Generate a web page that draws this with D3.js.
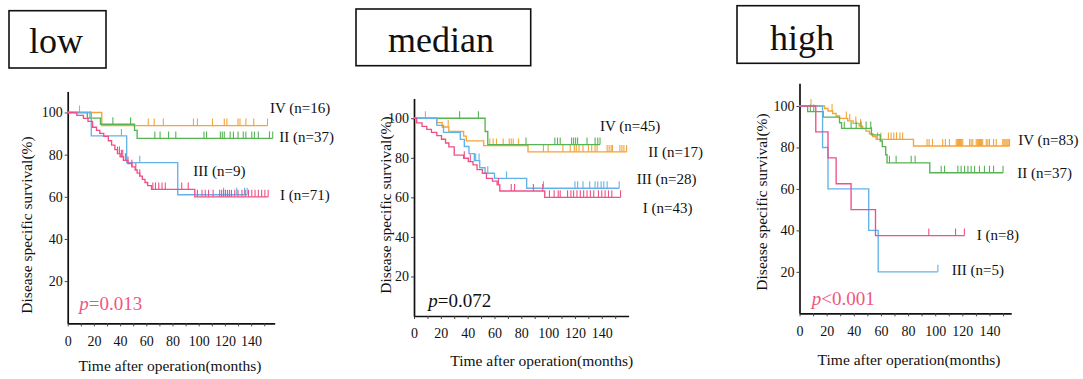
<!DOCTYPE html>
<html><head><meta charset="utf-8">
<script src="https://cdn.jsdelivr.net/npm/d3@7"></script>
<style>
body{margin:0;background:#fff;}
svg{display:block;}
text{font-family:"Liberation Serif","Times New Roman",serif;fill:#111;}
</style>
</head><body>
<svg id="c" width="1083" height="379"></svg>
<script>
// ---------- DATA (event times, survival after event, censor times) ----------
// Low
const lowIV_t = [26];
const lowIV_s = [93.8];
const lowIV_c = [9, 61.5, 66, 73, 96, 99, 110.5, 119.5, 121.5, 130, 131.5, 136, 142, 152.5];
const lowII_t = [15, 25, 51, 53];
const lowII_s = [97.3, 94.4, 91.5, 87.7];
const lowII_c = [17, 34.5, 48, 66.5, 70.5, 77, 82.5, 104, 106, 116.5, 118, 119.5, 124, 126.5, 130, 134, 136, 140.5, 142.5, 145.5, 154, 156.5];
const lowIII_t = [18, 45, 84];
const lowIII_s = [88.9, 76.2, 61.0];
const lowIII_c = [41, 55, 119, 129, 135, 137];
const lowI_t = [7, 12, 15.5, 19, 22, 24.5, 27.5, 31, 33.5, 36, 38, 40, 42.5, 46, 49, 51.5, 53, 55, 57, 59, 61, 64, 97];
const lowI_s = [98.6, 97.2, 95.8, 93.0, 91.5, 90.1, 88.7, 86.6, 84.5, 82.4, 80.5, 79.0, 77.3, 75.8, 74.2, 72.7, 71.2, 69.8, 68.3, 66.8, 65.3, 63.5, 60.0];
const lowI_c = [38, 39.5, 41, 42, 44, 46, 49, 52, 55, 65, 67, 69.5, 72, 74.5, 87, 92, 99, 102.5, 105, 107.5, 111, 116, 117.5, 119, 120.5, 122, 123.5, 125, 127.5, 130, 133, 135.5, 138, 140.5, 143, 145.5, 148, 150.5, 153];
// Median
const medIV_t = [17, 21, 26, 37, 39, 52, 85];
const medIV_s = [97.8, 95.6, 93.3, 91.0, 88.6, 86.2, 83.0];
const medIV_c = [8.5, 25.5, 56.5, 59, 61.5, 66.5, 71, 72.5, 74, 78, 96.5, 100, 111, 116.5, 119.5, 121, 123, 126, 130, 132.5, 135, 136.5, 144, 145.5, 147, 148, 153.5, 155, 156.5, 158.5];
const medII_t = [53, 55];
const medII_s = [93.3, 86.7];
const medII_c = [34, 48, 83.5, 105, 107, 109, 117.5, 119, 120.5, 122, 129, 135, 137, 138.7];
const medIII_t = [17, 22, 34.5, 37.5, 41, 45, 49, 53, 60, 84];
const medIII_s = [96.4, 92.9, 89.3, 85.7, 82.1, 78.6, 75.0, 72.2, 69.6, 64.6];
const medIII_c = [46, 48.5, 55, 69, 96.5, 120, 122, 126, 131, 135, 137, 139.5, 141.5, 144, 153];
const medI_t = [2, 6, 9.5, 13, 17, 20.5, 23.5, 26, 30, 37, 40.5, 44, 47, 51, 54, 58.5, 62, 64, 97.5];
const medI_s = [97.7, 95.9, 94.4, 92.9, 91.2, 89.4, 87.5, 85.5, 81.4, 79.8, 78.1, 76.4, 74.0, 72.2, 69.6, 68.2, 66.3, 63.2, 60.0];
const medI_c = [37.5, 42, 63, 72.5, 75, 89, 96, 101, 104.5, 107.5, 109, 114.5, 117, 119, 121.5, 124, 126.5, 129, 131.5, 134, 137.5, 140, 142.5, 145, 147.5, 154];
// High
const highIV_t = [18.5, 21, 24.5, 27, 29.5, 35.5, 39.5, 44, 46.5, 49, 51.5, 54, 56.5, 84];
const highIV_s = [98.8, 97.6, 96.4, 95.2, 94.0, 92.8, 91.6, 90.3, 89.1, 87.9, 86.6, 85.3, 83.9, 80.7];
const highIV_c = [8.5, 24, 34.5, 37, 41.5, 45, 53, 57.5, 60, 65.5, 67.5, 69.5, 71.5, 74, 76, 94, 95.5, 98, 105.5, 107.5, 110.5, 115.5, 116.3, 117.1, 117.9, 118.7, 119.5, 120.3, 125.3, 126.5, 127.7, 130.2, 131, 131.8, 132.6, 133.4, 134.2, 135, 137.6, 138.8, 140, 143, 145, 149.8, 150.6, 151.4, 152.2, 153, 153.8, 154.8];
const highII_t = [6, 17.5, 29.5, 31, 53, 59.5, 61, 63.5, 64.5, 96];
const highII_s = [97.3, 94.6, 91.9, 89.2, 86.1, 83.1, 80.4, 76.5, 72.6, 67.8];
const highII_c = [8, 10.5, 33, 38, 41.8, 45.4, 49.1, 52.5, 66.3, 71.2, 82.3, 85.2, 104.4, 106.9, 116.7, 119.1, 121.6, 124.1, 126.5, 129, 132.6, 136.3, 140, 143, 150];
const highIII_t = [17, 21, 51, 58];
const highIII_s = [80, 60, 40, 20];
const highIII_c = [102];
const highI_t = [12, 21, 27, 38, 56];
const highI_s = [87.5, 75, 62.5, 50, 37.5];
const highI_c = [95.3, 115, 121.5];

const stages = ["IV", "II", "III", "I"];
const lowLabels = ["IV (n=16)", "II (n=37)", "III (n=9)", "I (n=71)"];
const medLabels = ["IV (n=45)", "II (n=17)", "III (n=28)", "I (n=43)"];
const highLabels = ["IV (n=83)", "II (n=37)", "I (n=8)", "III (n=5)"];
const titles = ["low", "median", "high"];
const pValues = ["=0.013", "=0.072", "<0.001"];
const xTicks = [0, 10, 20, 30, 40, 50, 60, 70, 80, 90, 100, 110, 120, 130, 140, 150];
const xTickLabels = [0, 20, 40, 60, 80, 100, 120, 140];
const yTicks = [20, 40, 60, 80, 100];
const xTitle = "Time after operation(months)";
const yTitle = "Disease specific survival(%)";

// ---------- STYLE / LAYOUT ----------
const colors = {IV: "#f3a43a", II: "#56b453", III: "#62b3ea", I: "#ef5087"};
const pink = "#f0577f";

const panels = [
  {title: titles[0], box: [9, 10.7, 97, 57.3], tpos: [29, 53.3],
   xr: [67.7, 274.7], xMax: 158, yr: [323.3, 91.4], yMax: 110,
   data: {IV: [lowIV_t, lowIV_s, lowIV_c], II: [lowII_t, lowII_s, lowII_c], III: [lowIII_t, lowIII_s, lowIII_c], I: [lowI_t, lowI_s, lowI_c]},
   labels: lowLabels, lpos: [[270, 113], [279.3, 142], [193.3, 176], [280, 200]],
   p: pValues[0], pColor: pink, ppos: [79.3, 310], ylab: [26.5, 225], xlab: [170, 371]},
  {title: titles[1], box: [356, 9, 174.7, 56.7], tpos: [388, 51.7],
   xr: [414, 628.6], xMax: 160, yr: [316, 98.5], yMax: 110,
   data: {IV: [medIV_t, medIV_s, medIV_c], II: [medII_t, medII_s, medII_c], III: [medIII_t, medIII_s, medIII_c], I: [medI_t, medI_s, medI_c]},
   labels: medLabels, lpos: [[600, 131], [648.3, 157], [636.7, 184], [642.7, 213.3]],
   p: pValues[1], pColor: "#111", ppos: [428.3, 306.7], ylab: [386, 205], xlab: [541.7, 366]},
  {title: titles[2], box: [737, 5.7, 122, 57.6], tpos: [770, 50],
   xr: [799.5, 1011.2], xMax: 156, yr: [313.3, 83.2], yMax: 111,
   data: {IV: [highIV_t, highIV_s, highIV_c], II: [highII_t, highII_s, highII_c], III: [highIII_t, highIII_s, highIII_c], I: [highI_t, highI_s, highI_c]},
   labels: highLabels, lpos: [[1018.3, 145], [1017.3, 177.5], [976.7, 240], [951.7, 275]],
   p: pValues[2], pColor: pink, ppos: [811.7, 305], ylab: [761.5, 202], xlab: [909, 365]}
];

const svg = d3.select("#c");

panels.forEach(P => {
  svg.append("rect").attr("x", P.box[0]).attr("y", P.box[1]).attr("width", P.box[2]).attr("height", P.box[3])
    .attr("fill", "none").attr("stroke", "#111").attr("stroke-width", 1.6);
  svg.append("text").attr("x", P.tpos[0]).attr("y", P.tpos[1]).attr("font-size", 36).text(P.title);

  const x = d3.scaleLinear().domain([0, P.xMax]).range(P.xr);
  const y = d3.scaleLinear().domain([0, P.yMax]).range(P.yr);
  const g = svg.append("g");

  const ax = g.append("g").attr("transform", `translate(0,${y(0)})`)
    .call(d3.axisBottom(x).tickValues(xTicks).tickSize(3).tickSizeOuter(0).tickPadding(9.5)
      .tickFormat(d => xTickLabels.includes(d) ? d : ""));
  const ay = g.append("g").attr("transform", `translate(${x(0)},0)`)
    .call(d3.axisLeft(y).tickValues(yTicks).tickSize(3).tickSizeOuter(0).tickPadding(2));
  [ax, ay].forEach(a => {
    a.select(".domain").attr("stroke", "#111").attr("stroke-width", 1.7);
    a.selectAll(".tick line").attr("stroke", "#444").attr("stroke-width", 1);
    a.selectAll(".tick text").attr("font-family", '"Liberation Serif",serif').attr("font-size", 14).attr("fill", "#222");
  });

  const line = d3.line().x(d => x(d[0])).y(d => y(d[1])).curve(d3.curveStepAfter);
  ["IV", "II", "III", "I"].forEach(st => {
    const [tt, ss, cc] = P.data[st];
    const end = d3.max(cc.concat(tt));
    const pts = [[0, 100]].concat(tt.map((t, i) => [t, ss[i]]));
    pts.push([end, ss[ss.length - 1]]);
    g.append("path").attr("d", line(pts)).attr("fill", "none")
      .attr("stroke", colors[st]).attr("stroke-width", 1.35);
    const sAt = c => { const i = d3.bisectRight(tt, c); return i ? ss[i - 1] : 100; };
    g.selectAll(null).data(cc).enter().append("line")
      .attr("x1", d => x(d)).attr("x2", d => x(d))
      .attr("y1", d => y(sAt(d))).attr("y2", d => y(sAt(d)) - 7)
      .attr("stroke", colors[st]).attr("stroke-width", 1.1);
  });

  P.labels.forEach((lab, i) => {
    svg.append("text").attr("x", P.lpos[i][0]).attr("y", P.lpos[i][1]).attr("font-size", 15).text(lab);
  });

  const pt = svg.append("text").attr("x", P.ppos[0]).attr("y", P.ppos[1]).attr("font-size", 19);
  pt.append("tspan").attr("font-style", "italic").attr("fill", P.pColor).text("p");
  pt.append("tspan").attr("fill", P.pColor).text(P.p);

  svg.append("text").attr("x", P.xlab[0]).attr("y", P.xlab[1]).attr("text-anchor", "middle")
    .attr("font-size", 15.5).text(xTitle);
  svg.append("text").attr("transform", `translate(${P.ylab[0]},${P.ylab[1]}) rotate(-90)`)
    .attr("text-anchor", "middle").attr("dy", "0.35em").attr("font-size", 15.5).text(yTitle);
});
</script>
</body></html>
